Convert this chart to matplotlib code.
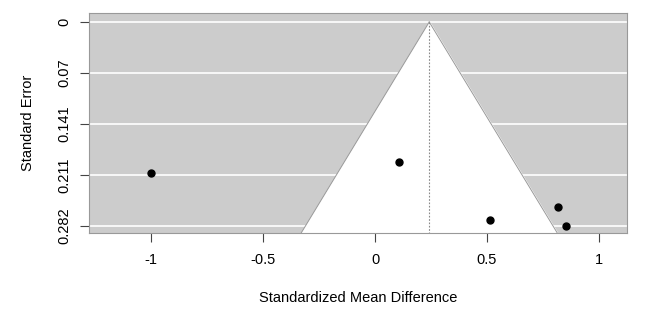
import numpy as np
import matplotlib.pyplot as plt

plt.rcParams['font.family'] = ['Liberation Sans', 'DejaVu Sans']

# study effects and their standard errors
smd = [-1.00, 0.107, 0.513, 0.817, 0.853]
se = [0.209, 0.194, 0.274, 0.256, 0.282]
estimate = 0.242

yticks = [0, 0.0705, 0.141, 0.2115, 0.282]
ytick_labels = ['0', '0.07', '0.141', '0.211', '0.282']
xticks = [-1, -0.5, 0, 0.5, 1]
xtick_labels = ['-1', '-0.5', '0', '0.5', '1']

fig = plt.figure(figsize=(6.63, 3.11), dpi=100)
ax = fig.add_axes([89 / 663, 78 / 311, 538 / 663, 220 / 311])

ylim = (0.2917, -0.0124)
ax.set_xlim(-1.277, 1.125)
ax.set_ylim(*ylim)
ax.set_facecolor('#cccccc')

# horizontal grid lines
for y in yticks:
    ax.axhline(y, color='white', lw=1.2, zorder=1)

# pseudo confidence region
se_range = np.array([0, ylim[0]])
lo = estimate - 1.96 * se_range
hi = estimate + 1.96 * se_range
ax.fill_betweenx(se_range, lo, hi, color='white', zorder=2)
ax.plot(lo, se_range, color='#999999', lw=0.7, zorder=3)
ax.plot(hi, se_range, color='#999999', lw=0.7, zorder=3)
ax.plot([estimate, estimate], [0, ylim[0]], color='#888888', lw=0.8,
        ls=(0, (1.5, 1.5)), zorder=3)

ax.plot(smd, se, 'o', color='black', ms=5, zorder=4)

for s in ax.spines.values():
    s.set_color('#999999')

ax.set_xticks(xticks)
ax.set_xticklabels(xtick_labels)
ax.set_yticks(yticks)
ax.set_yticklabels(ytick_labels, rotation=90, va='center')
ax.tick_params(direction='out', length=6.5, color='#444444', labelsize=10.5)
ax.tick_params(axis='x', pad=8)
ax.tick_params(axis='y', pad=6.5)
ax.set_xlabel('Standardized Mean Difference', fontsize=10.5, labelpad=17)
ax.set_ylabel('Standard Error', fontsize=10.5, labelpad=15.5)

fig.savefig('out.png', dpi=100)
